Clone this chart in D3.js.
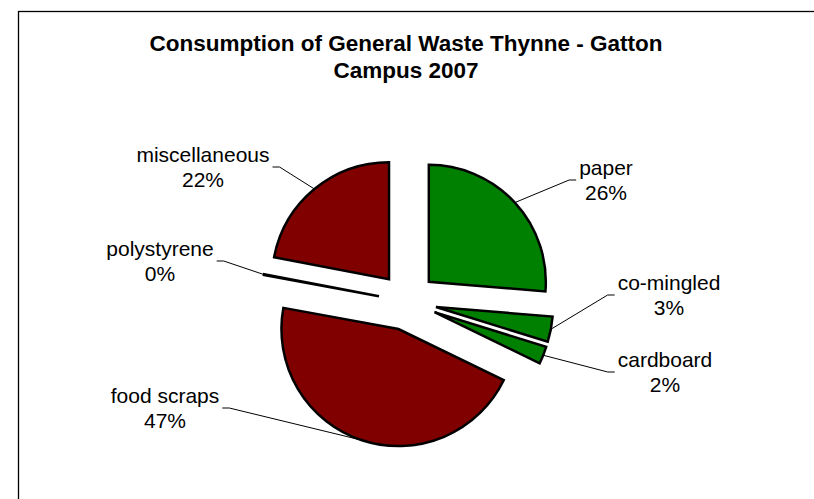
<!DOCTYPE html>
<html>
<head>
<meta charset="utf-8">
<script src="https://cdn.jsdelivr.net/npm/d3@7"></script>
<style>
  body { margin: 0; background: #fff; }
  svg { display: block; }
  text { font-family: "Liberation Sans", Arial, sans-serif; fill: #000; }
</style>
</head>
<body>
<svg id="chart"></svg>
<script>
var width = 814;
var height = 499;

// data (clockwise from 12 o'clock)
var categories = ["paper", "co-mingled", "cardboard", "food scraps", "polystyrene", "miscellaneous"];
var values = [26.3, 3.5, 2.4, 45.7, 0.1, 22.0];
var pctLabels = ["26%", "3%", "2%", "47%", "0%", "22%"];
var groups = ["green", "green", "green", "red", "red", "red"];

var color = d3.scaleOrdinal()
  .domain(["green", "red"])
  .range(["#008000", "#800000"]);

// label block layout: centre x, middle y, which side the leader attaches
var labelLayout = [
  { x: 606, y: 180, side: "left" },
  { x: 669, y: 295, side: "left" },
  { x: 665, y: 372, side: "left" },
  { x: 165, y: 408, side: "right" },
  { x: 160, y: 261, side: "right" },
  { x: 203, y: 167, side: "right" }
];

var cx = 407.5, cy = 301.5;
var radius = 117;
var explode = 29;

var svg = d3.select("#chart")
  .attr("width", width)
  .attr("height", height);

// chart frame
svg.append("rect")
  .attr("x", 18.5)
  .attr("y", 11.5)
  .attr("width", 820)
  .attr("height", 520)
  .attr("fill", "none")
  .attr("stroke", "#000")
  .attr("stroke-width", 1.3);

// title
var title = svg.append("text")
  .attr("text-anchor", "middle")
  .style("font-weight", "bold")
  .style("font-size", "22.5px");
title.append("tspan").attr("x", 406).attr("y", 51).text("Consumption of General Waste Thynne - Gatton");
title.append("tspan").attr("x", 406).attr("y", 78).text("Campus 2007");

var pie = d3.pie().sort(null).value(d => d);
var arcs = pie(values);

var arc = d3.arc().innerRadius(0).outerRadius(radius);

function mid(d) { return (d.startAngle + d.endAngle) / 2; }
function offset(d) {
  var a = mid(d);
  return [Math.sin(a) * explode, -Math.cos(a) * explode];
}

var g = svg.append("g").attr("transform", `translate(${cx},${cy})`);

g.selectAll("path.slice")
  .data(arcs)
  .join("path")
  .attr("class", "slice")
  .attr("transform", d => `translate(${offset(d)[0]},${offset(d)[1]})`)
  .attr("d", arc)
  .attr("fill", (d, i) => color(groups[i]))
  .attr("stroke", "#000")
  .attr("stroke-width", 2.5)
  .attr("stroke-linejoin", "miter");

// leader lines + labels
var fontSize = 21;
var lineGap = 25;

function blockWidth(i) {
  // width of the wider of the two label lines
  var tmp = svg.append("text").style("font-size", fontSize + "px").text(categories[i]);
  var w1 = tmp.node().getComputedTextLength();
  tmp.text(pctLabels[i]);
  var w2 = tmp.node().getComputedTextLength();
  tmp.remove();
  return Math.max(w1, w2);
}

arcs.forEach(function (d, i) {
  var L = labelLayout[i];
  var a = mid(d);
  var o = offset(d);
  var px = cx + o[0] + Math.sin(a) * radius;
  var py = cy + o[1] - Math.cos(a) * radius;
  var half = blockWidth(i) / 2;
  var x0, x1;
  if (L.side === "left") {
    x0 = L.x - half - 3;
    x1 = x0 - 7;
  } else {
    x0 = L.x + half + 3;
    x1 = x0 + 7;
  }
  svg.append("path")
    .attr("d", `M${x0},${L.y}L${x1},${L.y}L${px},${py}`)
    .attr("fill", "none")
    .attr("stroke", "#000")
    .attr("stroke-width", 1);

  var t = svg.append("text")
    .attr("text-anchor", "middle")
    .style("font-size", fontSize + "px");
  t.append("tspan").attr("x", L.x).attr("y", L.y - 5).text(categories[i]);
  t.append("tspan").attr("x", L.x).attr("y", L.y - 5 + lineGap).text(pctLabels[i]);
});
</script>
</body>
</html>
